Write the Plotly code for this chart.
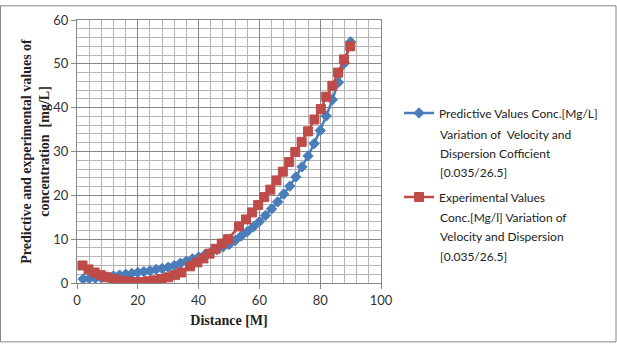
import plotly.graph_objects as go

blue_x = [2, 4, 6, 8, 10, 12, 14, 16, 18, 20, 22, 24, 26, 28, 30, 32, 34, 36, 38, 40,
          42, 44, 46, 48, 50, 52, 54, 56, 58, 60, 62, 64, 66, 68, 70, 72, 74, 76, 78, 80,
          82, 84, 86, 88, 90]
blue_y = [0.9, 1.0, 1.1, 1.2, 1.4, 1.6, 1.8, 2.0, 2.2, 2.4, 2.6, 2.8, 3.1, 3.3, 3.6, 4.0, 4.5, 5.0, 5.5, 5.9,
          6.4, 7.0, 7.6, 8.2, 8.8, 9.7, 10.7, 11.7, 12.8, 14.0, 15.4, 16.9, 18.5, 20.3, 22.1, 24.2, 26.5, 29.0, 31.8, 34.8,
          38.1, 41.8, 45.8, 50.2, 55.0]

red_x = [1.8, 3.8, 5.8, 7.8, 9.9, 12.0, 14.1, 16.5, 18.9, 21.2, 23.4, 25.6, 27.8, 30.0, 32.2, 34.3,
         37.2, 39.6, 41.6, 43.6, 45.6, 47.6, 49.7, 53.3, 55.6, 57.6, 59.6, 61.6, 63.6, 65.6, 67.7,
         69.8, 71.8, 73.9, 76.0, 78.1, 80.2, 82.0, 84.0, 85.9, 87.8, 89.9]
red_y = [4.0, 3.1, 2.4, 1.8, 1.3, 0.9, 0.55, 0.35, 0.2, 0.2, 0.4, 0.6, 0.9, 1.3, 1.8, 2.4,
         3.8, 4.7, 5.6, 6.7, 7.8, 9.0, 10.0, 12.9, 14.5, 16.1, 17.8, 19.6, 21.3, 23.4, 25.4,
         27.6, 29.9, 32.2, 34.6, 37.3, 39.7, 42.5, 45.0, 48.0, 51.0, 54.0]

legend_blue = ["Predictive Values Conc.[Mg/L]", "Variation of  Velocity and",
               "Dispersion Cofficient", "[0.035/26.5]"]
legend_red = ["Experimental Values", "Conc.[Mg/l] Variation of",
              "Velocity and Dispersion", "[0.035/26.5]"]

BLUE = "#4a7ebb"
RED = "#be4b48"
LEG_FONT = dict(family="Lato, Open Sans, sans-serif", size=12, color="#222222")

fig = go.Figure()
fig.add_trace(go.Scatter(
    x=blue_x, y=blue_y, mode="lines+markers", name=legend_blue[0], legendgroup="a",
    line=dict(color=BLUE, width=2.5),
    marker=dict(symbol="diamond", size=8, color=BLUE, line=dict(color=BLUE, width=1)),
))
fig.add_trace(go.Scatter(
    x=red_x, y=red_y, mode="lines+markers", name=legend_red[0], legendgroup="b",
    line=dict(color=RED, width=2.5),
    marker=dict(symbol="square", size=9, color=RED, line=dict(color=RED, width=1)),
))

axis_common = dict(
    showline=True, linecolor="#868686", linewidth=1, mirror=True,
    gridcolor="#868686", gridwidth=1,
    ticks="outside", ticklen=5, tickcolor="#868686",
    tickfont=dict(family="Lato, Open Sans, sans-serif", size=13, color="#333333"),
    zeroline=False,
)

fig.update_xaxes(
    range=[0, 100], dtick=20, tick0=0,
    minor=dict(dtick=4, showgrid=True, gridcolor="#b4b4b4", gridwidth=1),
    title=dict(text="<b>Distance [M]</b>",
               font=dict(family="Liberation Serif, Times New Roman, serif", size=14, color="#222222"),
               standoff=8),
    **axis_common,
)
fig.update_yaxes(
    range=[0, 60], dtick=10, tick0=0,
    minor=dict(dtick=2, showgrid=True, gridcolor="#b4b4b4", gridwidth=1),
    title=dict(text="<b>Predictive and experimental values of<br>concentration  [mg/L]</b>",
               font=dict(family="Liberation Serif, Times New Roman, serif", size=14, color="#222222"),
               standoff=0),
    **axis_common,
)

# continuation lines of the legend labels (Excel-style line spacing)
PX_W, PX_H = 304, 268
def px_to_paper(px, py):
    return (px - 77) / PX_W, (283 - py) / PX_H

annotations = []
for lines, first_y in ((legend_blue, 112), (legend_red, 197)):
    for i, txt in enumerate(lines[1:], start=1):
        ax, ay = px_to_paper(437.5, first_y + 19.5 * i)
        annotations.append(dict(text=txt, xref="paper", yref="paper", x=ax, y=ay,
                                xanchor="left", yanchor="middle", showarrow=False,
                                font=LEG_FONT))

lx, ly = px_to_paper(399, 95)
fig.update_layout(
    width=617, height=344,
    margin=dict(l=77, r=236, t=15, b=61),
    paper_bgcolor="white", plot_bgcolor="white",
    showlegend=True,
    legend=dict(
        x=lx, y=ly, xanchor="left", yanchor="top",
        font=LEG_FONT, valign="middle", tracegroupgap=65, bgcolor="rgba(0,0,0,0)",
    ),
    annotations=annotations,
    shapes=[dict(type="rect", xref="paper", yref="paper",
                 x0=(0.5 - 77) / PX_W, x1=(616 - 77) / PX_W,
                 y0=(283 - 343) / PX_H, y1=(283 - 0.5) / PX_H,
                 line=dict(color="#868686", width=1), fillcolor="rgba(0,0,0,0)", layer="below")],
)

fig.write_html("out.html")
